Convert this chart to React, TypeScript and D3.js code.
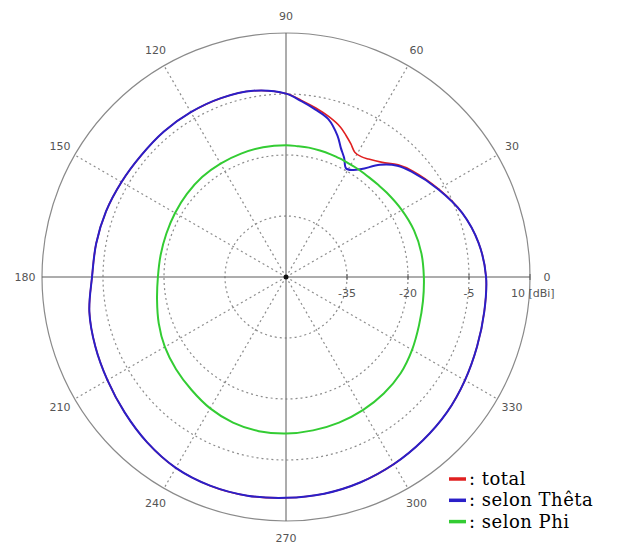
import React from "react";
import * as d3 from "d3";

const angles = [0, 10, 20, 30, 40, 45, 50, 55, 58, 61, 64, 67, 70, 75, 80, 85, 90, 100, 110, 120, 130, 140, 150, 160, 170, 180, 190, 200, 210, 220, 230, 240, 250, 260, 270, 280, 290, 300, 310, 320, 330, 340, 350];

const totalDb = [-0.8, -1.9, -3.9, -6.7, -9.4, -11.0, -13.2, -14.6, -15.1, -15.0, -13.6, -12.2, -10.8, -9.2, -7.8, -6.4, -4.9, -3.5, -3.2, -3.2, -3.3, -3.5, -3.3, -2.9, -2.6, -2.3, -0.9, -0.1, 0.7, 1.8, 3.1, 4.2, 4.6, 4.6, 4.3, 4.1, 3.7, 3.1, 2.4, 1.7, 0.8, 0.0, -0.5];

const thetaDb = [-0.8, -1.9, -3.9, -6.8, -9.7, -11.3, -14.0, -17.6, -19.0, -19.5, -17.4, -15.5, -13.0, -9.8, -8.2, -6.6, -4.9, -3.5, -3.2, -3.2, -3.3, -3.5, -3.3, -2.9, -2.6, -2.3, -0.9, -0.1, 0.7, 1.8, 3.1, 4.2, 4.6, 4.6, 4.3, 4.1, 3.7, 3.1, 2.4, 1.7, 0.8, 0.0, -0.5];

const phiDb = [-16.1, -16.2, -16.5, -17.1, -17.7, -17.95, -18.1, -18.1, -18.1, -18.1, -18.0, -18.0, -17.9, -17.8, -17.7, -17.7, -17.6, -17.6, -17.7, -17.8, -17.9, -18.2, -18.5, -18.7, -18.7, -18.5, -17.8, -16.7, -15.6, -14.7, -13.8, -12.7, -11.9, -11.5, -11.5, -11.7, -11.9, -12.2, -12.6, -13.2, -14.2, -15.2, -15.8];

const ringTicks = [-35, -20, -5, 10];
const ringLabels = ["-35", "-20", "-5", "10 [dBi]"];
const angleTicks = [0, 30, 60, 90, 120, 150, 180, 210, 240, 270, 300, 330];

const seriesNames = [": total", ": selon Thêta", ": selon Phi"];
const seriesColors = ["#e02020", "#2a1fc8", "#33cc33"];

const CX = 286;
const CY = 277;
const R = 244;

export default function App() {
  const r = d3.scaleLinear().domain([-50, 10]).range([0, R]);
  const toRad = (deg: number) => ((90 - deg) * Math.PI) / 180;
  const line = d3
    .lineRadial<[number, number]>()
    .angle((d) => toRad(d[0]))
    .radius((d) => r(d[1]))
    .curve(d3.curveCatmullRomClosed.alpha(0.5));

  const series = [totalDb, thetaDb, phiDb].map((vals) =>
    angles.map((a, i) => [a, vals[i]] as [number, number])
  );

  const pt = (deg: number, rad: number) => [
    CX + rad * Math.cos((deg * Math.PI) / 180),
    CY - rad * Math.sin((deg * Math.PI) / 180),
  ];

  const gridColor = "#8c8c8c";
  const labelColor = "#555";

  return (
    <svg
      width={618}
      height={545}
      style={{ position: "absolute", left: 0, top: 0, background: "#fff" }}
      fontFamily="Verdana, 'DejaVu Sans', sans-serif"
    >
      {ringTicks.slice(0, -1).map((t) => (
        <circle
          key={"ring" + t}
          cx={CX}
          cy={CY}
          r={r(t)}
          fill="none"
          stroke={gridColor}
          strokeWidth={1.2}
          strokeDasharray="2,3"
        />
      ))}
      <circle cx={CX} cy={CY} r={R} fill="none" stroke="#8a8a8a" strokeWidth={1.2} />
      {angleTicks
        .filter((a) => a % 90 !== 0)
        .map((a) => {
          const [x, y] = pt(a, R);
          return (
            <line
              key={"rad" + a}
              x1={CX}
              y1={CY}
              x2={x}
              y2={y}
              stroke={gridColor}
              strokeWidth={1.2}
              strokeDasharray="2,3"
            />
          );
        })}
      <line x1={CX - R} y1={CY} x2={CX + R} y2={CY} stroke="#5a5a5a" strokeWidth={1} />
      <line x1={CX} y1={CY - R} x2={CX} y2={CY + R} stroke="#5a5a5a" strokeWidth={1} />
      {ringTicks.map((t) => (
        <line
          key={"tk" + t}
          x1={CX + r(t)}
          y1={CY - 3}
          x2={CX + r(t)}
          y2={CY + 3}
          stroke="#5a5a5a"
          strokeWidth={1}
        />
      ))}
      <circle cx={CX} cy={CY} r={2.5} fill="#111" />
      {ringTicks.map((t, i) =>
        i === ringTicks.length - 1 ? (
          <text key={"rl" + t} x={CX + r(t) - 19} y={CY + 20} fontSize={11} fill={labelColor}>
            {ringLabels[i]}
          </text>
        ) : (
          <text key={"rl" + t} x={CX + r(t)} y={CY + 20} fontSize={11} fill={labelColor} textAnchor="middle">
            {ringLabels[i]}
          </text>
        )
      )}
      {angleTicks.map((a) => {
        const [x, y] = pt(a, 261);
        return (
          <text
            key={"al" + a}
            x={x}
            y={y}
            fontSize={11}
            fill={labelColor}
            textAnchor="middle"
            dominantBaseline="central"
          >
            {a}
          </text>
        );
      })}
      <g transform={`translate(${CX},${CY})`}>
        {series.map((s, i) => (
          <path
            key={"s" + i}
            d={line(s) || ""}
            fill="none"
            stroke={seriesColors[i]}
            strokeWidth={i === 0 ? 1.6 : 2}
            strokeLinejoin="round"
          />
        ))}
      </g>
      {seriesNames.map((n, i) => (
        <g key={"lg" + i} transform={`translate(0, ${479 + i * 21.3})`}>
          <line x1={449} x2={466} y1={0} y2={0} stroke={seriesColors[i]} strokeWidth={3.5} />
          <text
            x={469}
            y={6}
            fontSize={18}
            letterSpacing={0.5}
            fontFamily="'DejaVu Serif', serif"
            fill="#000"
          >
            {n}
          </text>
        </g>
      ))}
    </svg>
  );
}
